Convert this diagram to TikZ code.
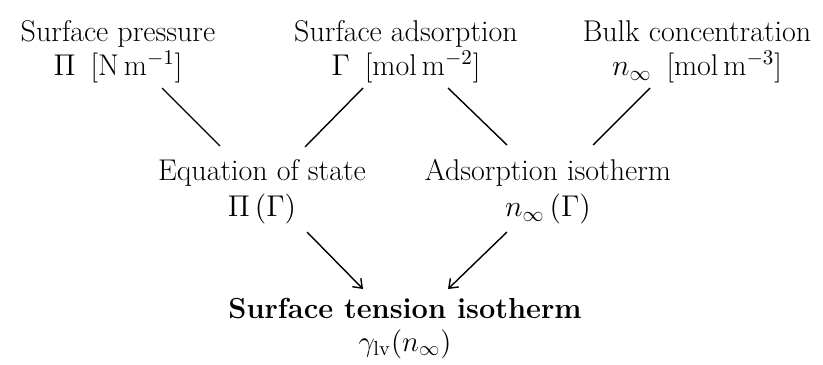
\documentclass[tikz,border=0pt]{standalone}
\usepackage{fix-cm}
\usetikzlibrary{arrows.meta}
\begin{document}
\begin{tikzpicture}[x=0.5pt,y=-0.5pt,
  lab/.style={align=center,font=\fontsize{15}{17}\selectfont,inner sep=0pt},
  conn/.style={line width=0.7pt},
  arr/.style={line width=0.7pt,-{Straight Barb[length=4pt,width=6pt,line width=0.7pt]}}]
\useasboundingbox (0,0) rectangle (823,364);
\node[lab] (sp) at (118,52) {Surface pressure\\$\Pi$\enspace[N\,m$^{-1}$]};
\node[lab] (sa) at (406,52) {Surface adsorption\\$\Gamma$\enspace[mol\,m$^{-2}$]};
\node[lab] (bc) at (697,52) {Bulk concentration\\$n_\infty$\enspace[mol\,m$^{-3}$]};
\node[lab] (eos) at (262,192) {Equation of state\\[1pt]$\Pi\,(\Gamma)$};
\node[lab] (ai) at (548,192) {Adsorption isotherm\\[1pt]$n_\infty\,(\Gamma)$};
\node[lab,font=\fontsize{14.5}{16.5}\selectfont] (st) at (405,328) {\textbf{Surface tension isotherm}\\$\gamma_{\mathrm{lv}}(n_\infty)$};
\draw[conn] ([shift={(44,36)}]sp.center) -- ([shift={(-42,-46)}]eos.center);
\draw[conn] ([shift={(-43,36)}]sa.center) -- ([shift={(43,-45)}]eos.center);
\draw[conn] ([shift={(42,36)}]sa.center) -- ([shift={(-41,-47)}]ai.center);
\draw[conn] ([shift={(-47,36)}]bc.center) -- ([shift={(45,-47)}]ai.center);
\draw[arr] ([shift={(45,40)}]eos.center) -- ([shift={(-42,-39)}]st.center);
\draw[arr] ([shift={(-41,40)}]ai.center) -- ([shift={(43,-39)}]st.center);
\end{tikzpicture}
\end{document}
